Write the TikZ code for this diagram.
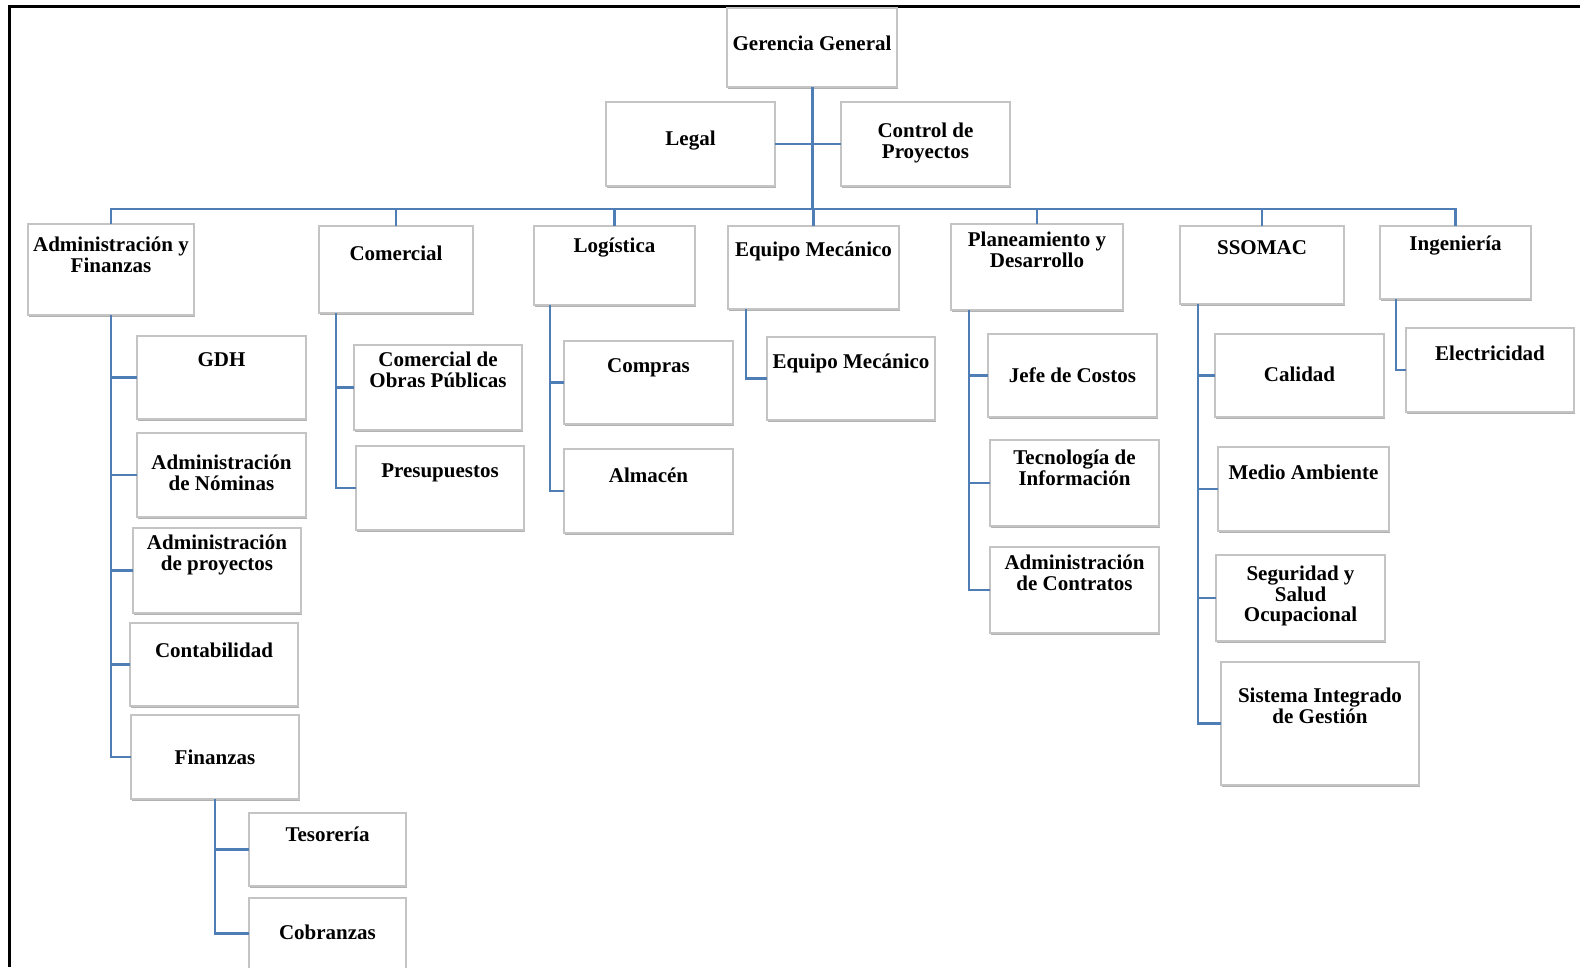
\documentclass[tikz,border=0pt]{standalone}
\usepackage{fontspec}
\setmainfont{Liberation Serif}
\usetikzlibrary{shadows}

\definecolor{linkblue}{HTML}{4F7DB5}
\definecolor{boxline}{HTML}{C4C4C4}

\tikzset{
  orgbox/.style={draw=boxline, line width=1.1pt, fill=white, rectangle,
    inner sep=0pt, outer sep=0pt,
    drop shadow={shadow xshift=1.2pt, shadow yshift=-2.4pt, fill=black, opacity=0.3}},
  orgtext/.style={align=center, inner sep=0pt, anchor=center,
    font=\fontsize{21}{20.5}\selectfont\bfseries},
  conn/.style={draw=linkblue, line width=2.1pt},
  trunk/.style={draw=linkblue, line width=3pt},
  frameline/.style={draw=black, line width=3pt}
}

% \orgbox{name}{x1}{y1}{x2}{y2}{text centre y}{text}
\newcommand\orgbox[7]{%
  \node[orgbox, minimum width={(#4-#2)*1pt}, minimum height={(#5-#3)*1pt}]
    (#1) at ({(#2+#4)/2},{(#3+#5)/2}) {};
  \node[orgtext] (#1-t) at ({(#2+#4)/2},#6) {#7};
}

\begin{document}
\begin{tikzpicture}[x=1pt, y=-1pt]
\useasboundingbox (0,0) rectangle (1580,967);

% page frame
\draw[frameline] (9,967) -- (9,6) -- (1580,6);

% head and staff
\orgbox{gg}{727}{8}{897}{87}{43}{Gerencia General}
\orgbox{legal}{606}{102}{775}{186}{141}{Legal}
\orgbox{ctrl}{841}{102}{1010}{186}{143}{Control de\\Proyectos}

% departments
\orgbox{adm}{28}{224}{194}{315}{255}{Administración y\\Finanzas}
\orgbox{com}{319}{226}{473}{313}{253}{Comercial}
\orgbox{log}{534}{226}{695}{305}{248}{Logística}
\orgbox{eqm}{728}{226}{899}{309}{251}{Equipo Mecánico}
\orgbox{plan}{951}{224}{1123}{310}{250}{Planeamiento y\\Desarrollo}
\orgbox{sso}{1180}{226}{1344}{304}{248}{SSOMAC}
\orgbox{ing}{1380}{226}{1531}{299}{246}{Ingeniería}

% Administración y Finanzas
\orgbox{gdh}{137}{336}{306}{419}{360}{GDH}
\orgbox{nom}{137}{433}{306}{517}{473}{Administración\\de Nóminas}
\orgbox{proy}{133}{528}{301}{613}{555}{Administración\\de proyectos}
\orgbox{cont}{130}{623}{298}{706}{650}{Contabilidad}
\orgbox{fin}{131}{715}{299}{799}{757}{Finanzas}
\orgbox{tes}{249}{813}{406}{886}{834}{Tesorería}
\orgbox{cob}{249}{898}{406}{969}{932}{Cobranzas}

% Comercial
\orgbox{cop}{354}{345}{522}{430}{370}{Comercial de\\Obras Públicas}
\orgbox{pres}{356}{446}{524}{530}{473}{Presupuestos}

% Logística
\orgbox{compras}{564}{341}{733}{424}{368}{Compras}
\orgbox{alm}{564}{449}{733}{533}{475}{Almacén}

% Equipo Mecánico
\orgbox{eqmb}{767}{337}{935}{420}{363}{Equipo Mecánico}

% Planeamiento y Desarrollo
\orgbox{costos}{988}{334}{1157}{417}{375}{Jefe de Costos}
\orgbox{ti}{990}{440}{1159}{526}{468}{Tecnología de\\Información}
\orgbox{contr}{990}{547}{1159}{633}{573}{Administración\\de Contratos}

% SSOMAC
\orgbox{cal}{1215}{334}{1384}{417}{374}{Calidad}
\orgbox{med}{1218}{447}{1389}{531}{472}{Medio Ambiente}
\orgbox{seg}{1216}{555}{1385}{641}{596}{Seguridad y\\Salud\\Ocupacional}
\orgbox{sig}{1221}{662}{1419}{785}{706}{Sistema Integrado\\de Gestión}

% Ingeniería
\orgbox{elec}{1406}{328}{1574}{412}{353}{Electricidad}

% connectors from the head
\coordinate (bus) at (812,209);
\draw[trunk] (gg.south -| bus) -- (bus);
\draw[conn] (legal.east) -- (ctrl.west);
\foreach \d in {adm,com,log,eqm,plan,sso,ing}
  \draw[conn] (\d.north) |- (bus);

% connectors inside departments
\foreach \c in {gdh,nom,proy,cont,fin}
  \draw[conn] (adm.south) |- (\c.west);
\foreach \c in {tes,cob}
  \draw[conn] (fin.south) |- (\c.west);
\foreach \c in {cop,pres}
  \draw[conn] ([xshift=17pt]com.south west) |- (\c.west);
\foreach \c in {compras,alm}
  \draw[conn] ([xshift=16pt]log.south west) |- (\c.west);
\draw[conn] ([xshift=18pt]eqm.south west) |- (eqmb.west);
\foreach \c in {costos,ti,contr}
  \draw[conn] ([xshift=18pt]plan.south west) |- (\c.west);
\foreach \c in {cal,med,seg,sig}
  \draw[conn] ([xshift=18pt]sso.south west) |- (\c.west);
\draw[conn] ([xshift=16pt]ing.south west) |- (elec.west);
\end{tikzpicture}
\end{document}
